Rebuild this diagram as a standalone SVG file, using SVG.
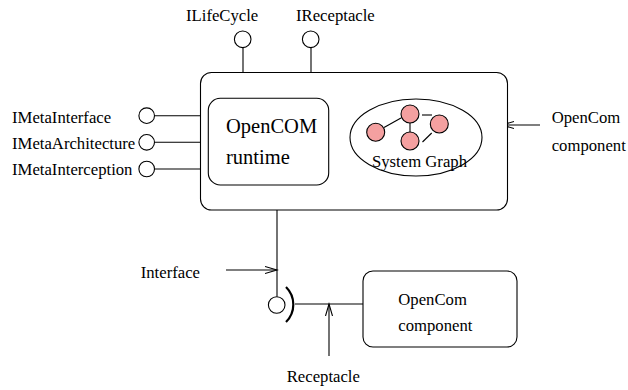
<svg xmlns="http://www.w3.org/2000/svg" width="628" height="390" viewBox="0 0 628 390">
  <style>
    .ln { fill: none; stroke: #000; stroke-width: 1.1; }
    .box { fill: #fff; stroke: #000; stroke-width: 1.1; }
    .port { fill: #fff; stroke: #000; stroke-width: 1.1; }
    .gnode { fill: #f4a0a0; stroke: #000; stroke-width: 1.1; }
    .t { font-family: "Liberation Serif", "Times New Roman", serif; font-size: 16.7px; fill: #000; }
    .big { font-size: 20.5px; }
  </style>
  <defs>
    <marker id="open" markerWidth="14" markerHeight="10" refX="12" refY="5" orient="auto" markerUnits="userSpaceOnUse">
      <path d="M0,1.5 L12,5 L0,8.5" fill="none" stroke="#000" stroke-width="1.1"/>
    </marker>
  </defs>

  <!-- connectors -->
  <g id="connectors">
    <!-- top interface stems -->
    <line class="ln" x1="243" y1="47.5" x2="243" y2="72.5"/>
    <line class="ln" x1="311" y1="47.5" x2="311" y2="72.5"/>
    <!-- left meta-interface stems -->
    <line class="ln" x1="155" y1="115.7" x2="208.3" y2="115.7"/>
    <line class="ln" x1="155" y1="142.3" x2="208.3" y2="142.3"/>
    <line class="ln" x1="155" y1="169" x2="208.3" y2="169"/>
    <!-- provided interface down to binding -->
    <line class="ln" x1="277" y1="210" x2="277" y2="296.7"/>
    <!-- receptacle socket -->
    <path d="M286,287 A24.6,24.6 0 0 1 286,322" fill="none" stroke="#000" stroke-width="2.2"/>
    <line class="ln" x1="295" y1="304" x2="363" y2="304"/>
    <!-- annotation arrows -->
    <line class="ln" x1="540" y1="125" x2="502" y2="125" marker-end="url(#open)"/>
    <line class="ln" x1="226" y1="270" x2="277" y2="270" marker-end="url(#open)"/>
    <line class="ln" x1="329" y1="356" x2="329" y2="304" marker-end="url(#open)"/>
  </g>

  <!-- OpenCom component hosting the runtime -->
  <g id="main-component">
    <rect class="box" x="200.5" y="72.5" width="307" height="137.5" rx="11" ry="11"/>
  </g>

  <g id="runtime">
    <rect class="box" x="208.3" y="98.3" width="120.4" height="86.7" rx="12" ry="12"/>
    <text class="t big" x="226" y="133.3">OpenCOM</text>
    <text class="t big" x="226" y="164.3">runtime</text>
  </g>

  <g id="system-graph">
    <ellipse class="ln" cx="416" cy="137.5" rx="66" ry="38.5"/>
    <line class="ln" x1="384" y1="127.5" x2="401" y2="118"/>
    <line class="ln" x1="422" y1="115" x2="432" y2="115"/>
    <line class="ln" x1="410" y1="123" x2="410" y2="132"/>
    <line class="ln" x1="431.7" y1="133" x2="422.5" y2="142"/>
    <circle class="gnode" cx="375.7" cy="132.3" r="9"/>
    <circle class="gnode" cx="410" cy="114" r="9"/>
    <circle class="gnode" cx="439.3" cy="124" r="9"/>
    <circle class="gnode" cx="410" cy="141" r="9"/>
    <text class="t" x="372" y="166.5">System Graph</text>
  </g>

  <g id="port-ilifecycle">
    <circle class="port" cx="242.7" cy="39.3" r="8.3"/>
    <text class="t" x="186" y="20.5">ILifeCycle</text>
  </g>
  <g id="port-ireceptacle">
    <circle class="port" cx="310.7" cy="39.3" r="8.3"/>
    <text class="t" x="296" y="20.5">IReceptacle</text>
  </g>

  <g id="port-imetainterface">
    <circle class="port" cx="146.7" cy="115.7" r="7.8"/>
    <text class="t" x="12" y="123.3">IMetaInterface</text>
  </g>
  <g id="port-imetaarchitecture">
    <circle class="port" cx="146.7" cy="142.3" r="7.8"/>
    <text class="t" x="12" y="149.3">IMetaArchitecture</text>
  </g>
  <g id="port-imetainterception">
    <circle class="port" cx="146.7" cy="169" r="7.8"/>
    <text class="t" x="12" y="175">IMetaInterception</text>
  </g>

  <g id="label-opencom-component">
    <text class="t" x="551.7" y="123.3">OpenCom</text>
    <text class="t" x="551.7" y="150.7">component</text>
  </g>

  <g id="interface-binding">
    <circle class="port" cx="276.7" cy="305" r="8.3"/>
    <text class="t" x="140.7" y="278.3">Interface</text>
    <text class="t" x="286.7" y="381.7">Receptacle</text>
  </g>

  <g id="lower-component">
    <rect class="box" x="363" y="271" width="154" height="76" rx="10" ry="10"/>
    <text class="t" x="398.3" y="305">OpenCom</text>
    <text class="t" x="398.3" y="331">component</text>
  </g>
</svg>
